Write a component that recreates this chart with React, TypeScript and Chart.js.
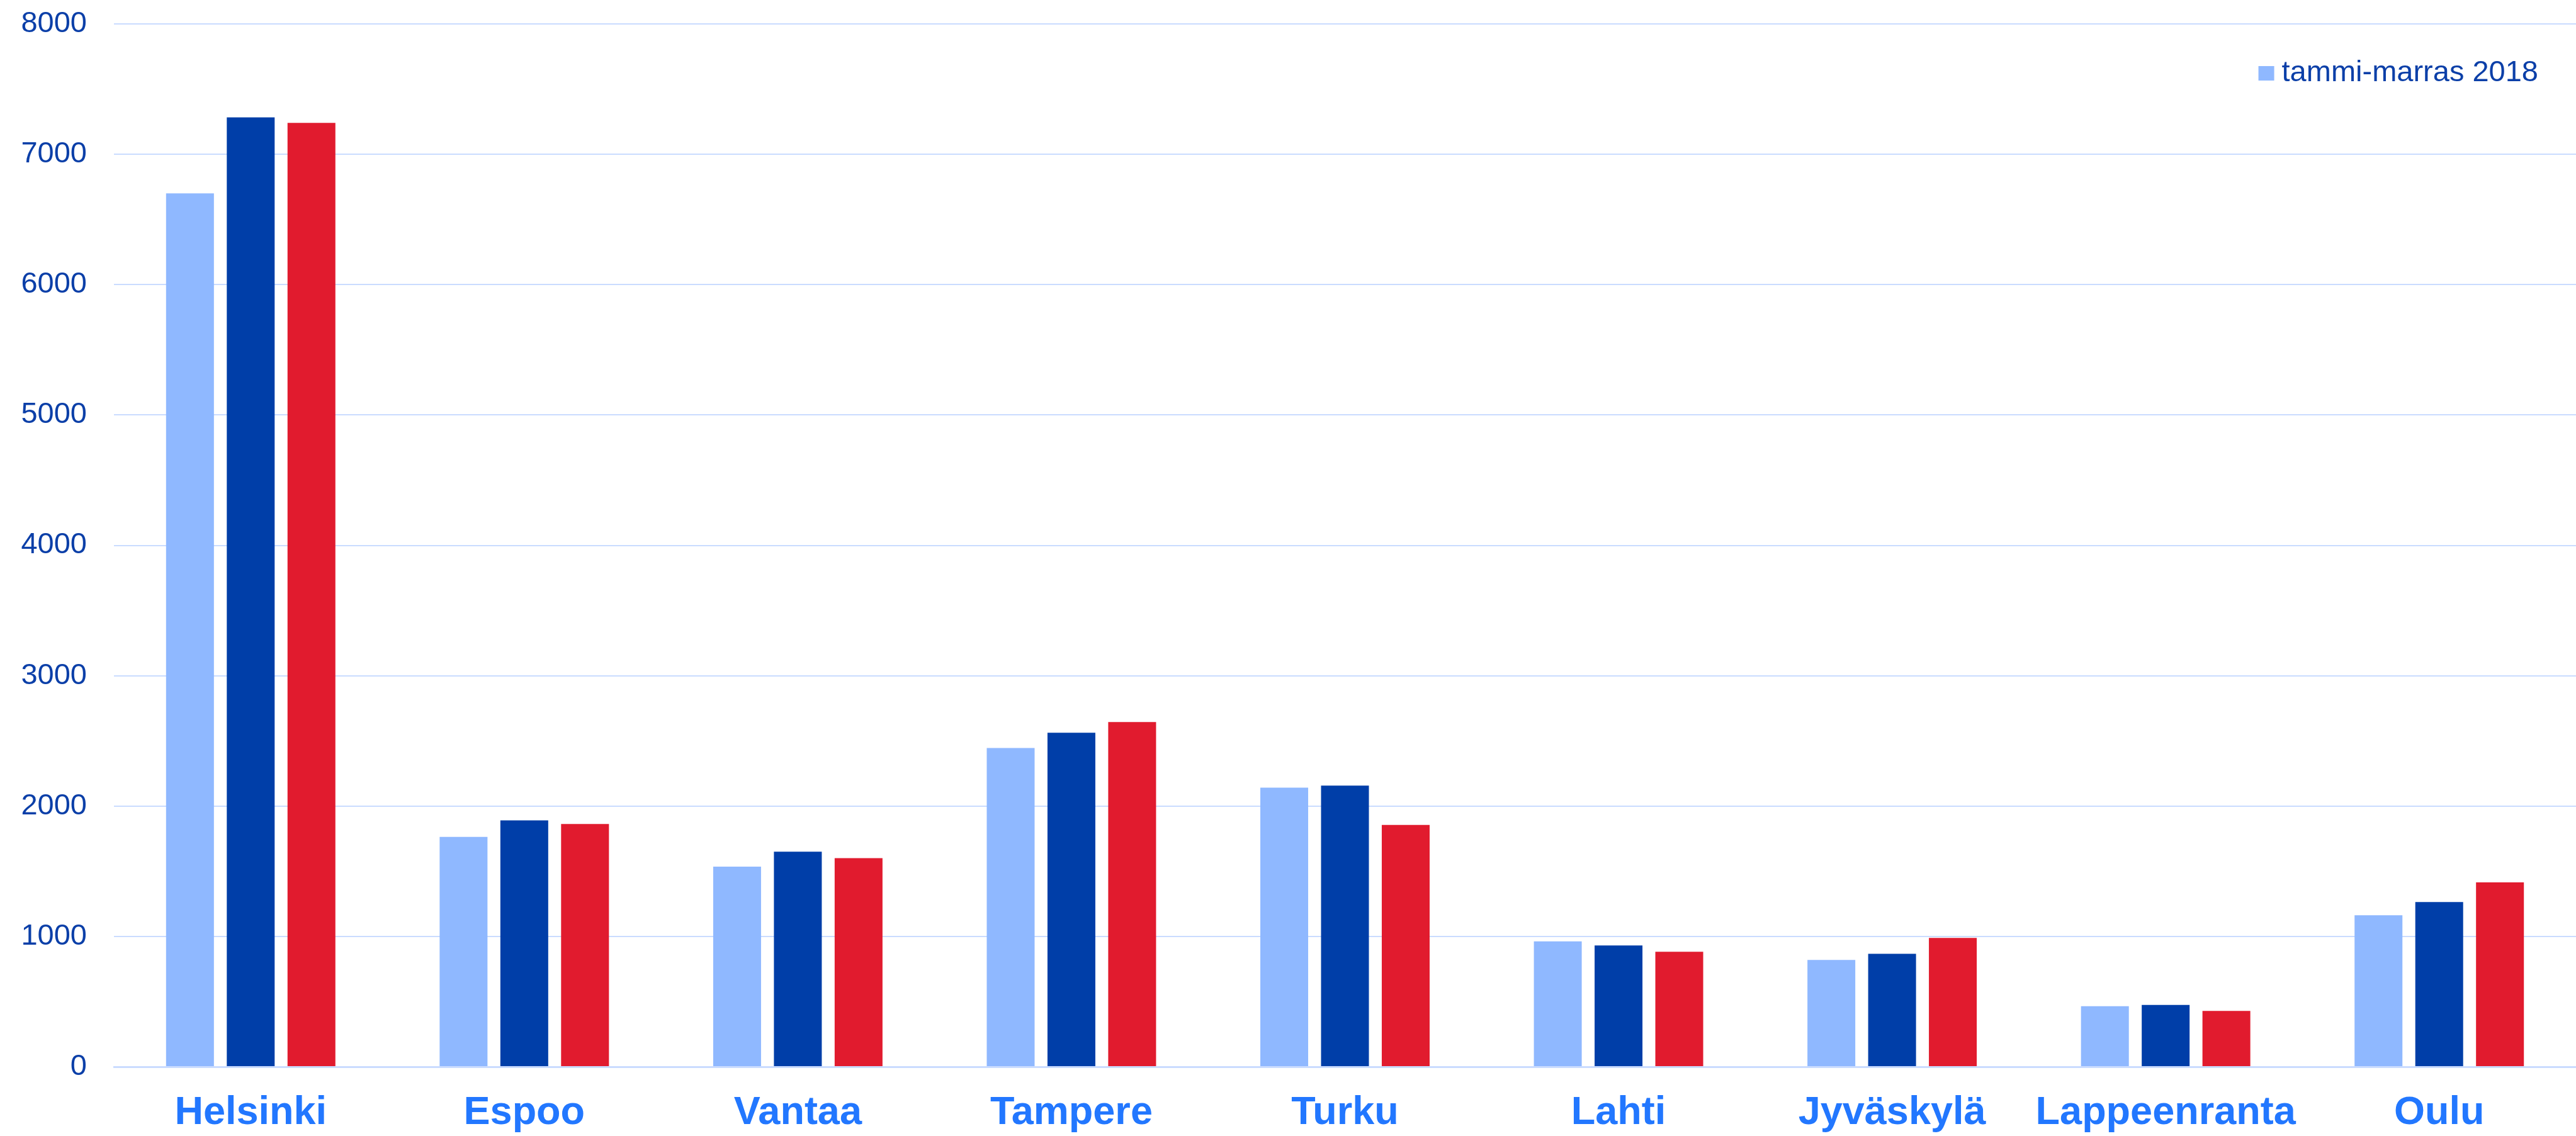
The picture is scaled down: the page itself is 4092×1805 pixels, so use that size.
import React, { useEffect, useRef } from "react";
import { Chart, registerables } from "chart.js";

Chart.register(...registerables);

const categories = ["Helsinki", "Espoo", "Vantaa", "Tampere", "Turku", "Lahti", "Jyväskylä", "Lappeenranta", "Oulu"];
const seriesLabels = ["tammi-marras 2018", "tammi-marras 2019", "tammi-marras 2020"];
const series2018 = [6700, 1763, 1535, 2445, 2141, 962, 819, 465, 1162];
const series2019 = [7283, 1890, 1650, 2563, 2157, 930, 867, 474, 1264];
const series2020 = [7241, 1862, 1600, 2645, 1855, 882, 989, 428, 1415];
const yTicks = [0, 1000, 2000, 3000, 4000, 5000, 6000, 7000, 8000];

const W = 4092;
const H = 1805;
const FONT = "'Liberation Sans', Arial, sans-serif";
const TEXT_DARK = "#0B3FA8";

const insideLegend = {
  id: "insideLegend",
  afterDraw(chart: any) {
    const { ctx, chartArea } = chart;
    const ds = chart.data.datasets[0];
    ctx.save();
    ctx.font = `47px ${FONT}`;
    ctx.textBaseline = "middle";
    ctx.textAlign = "left";
    const text = ds.label as string;
    const tw = ctx.measureText(text).width;
    const textRight = chartArea.right - 60;
    const textLeft = textRight - tw;
    const cy = chartArea.top + 78;
    ctx.fillStyle = ds.backgroundColor;
    ctx.fillRect(textLeft - 37, cy - 11, 25, 23);
    ctx.fillStyle = TEXT_DARK;
    ctx.fillText(text, textLeft, cy);
    ctx.restore();
  },
};

export default function App() {
  const ref = useRef<HTMLCanvasElement | null>(null);

  useEffect(() => {
    document.body.style.margin = "0";
    const canvas = ref.current;
    if (!canvas) return;
    const chart = new Chart(canvas, {
      type: "bar",
      data: {
        labels: categories,
        datasets: [
          { label: seriesLabels[0], data: series2018, backgroundColor: "#8FB8FF", borderWidth: 0 },
          { label: seriesLabels[1], data: series2019, backgroundColor: "#003EA8", borderWidth: 0 },
          { label: seriesLabels[2], data: series2020, backgroundColor: "#E11B2E", borderWidth: 0 },
        ],
      },
      plugins: [insideLegend],
      options: {
        responsive: false,
        animation: false,
        devicePixelRatio: 1,
        layout: { padding: { top: 38, left: 0, right: 0, bottom: 0 } },
        datasets: { bar: { categoryPercentage: 0.666, barPercentage: 0.788 } },
        plugins: {
          tooltip: { enabled: false },
          legend: { display: false },
        },
        scales: {
          x: {
            grid: { display: false, drawTicks: false },
            border: { display: true, color: "#CADCFF", width: 3 },
            ticks: {
              color: "#2277FF",
              padding: 36,
              maxRotation: 0,
              autoSkip: false,
              font: { family: FONT, size: 63, weight: "bold" },
            },
            afterFit: (scale: any) => {
              scale.height = 110;
              scale.paddingLeft = 0;
              scale.paddingRight = 0;
            },
          },
          y: {
            min: 0,
            max: 8000,
            afterBuildTicks: (scale: any) => {
              scale.ticks = yTicks.map((v) => ({ value: v }));
            },
            grid: { color: "#CADCFF", lineWidth: 2, drawTicks: false },
            border: { display: false },
            ticks: {
              color: TEXT_DARK,
              padding: 43,
              font: { family: FONT, size: 47 },
              callback: (v: any) => String(v),
            },
            afterFit: (scale: any) => {
              scale.width = 181;
              scale.paddingTop = 0;
              scale.paddingBottom = 0;
            },
          },
        },
      },
    });
    return () => chart.destroy();
  }, []);

  return (
    <div style={{ width: W, height: H, background: "#ffffff" }}>
      <canvas ref={ref} width={W} height={H} style={{ display: "block" }} />
    </div>
  );
}
